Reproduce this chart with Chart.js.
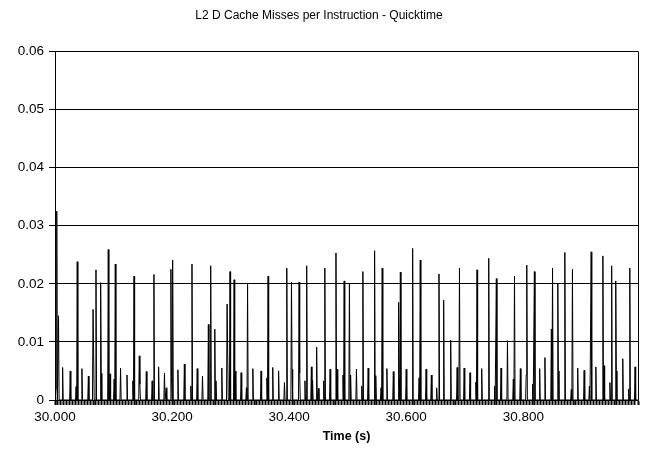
<!DOCTYPE html>
<html><head><meta charset="utf-8">
<script src="https://cdn.jsdelivr.net/npm/chart.js@4"></script>
<style>html,body{margin:0;padding:0;background:#fff}</style>
</head><body>
<canvas id="c" width="645" height="456"></canvas>
<script>
const chartTitle = 'L2 D Cache Misses per Instruction - Quicktime';
const xAxisTitle = 'Time (s)';
const startTime = 30.000;
const endTime = 30.996;
const xLabelTicks = [30.000, 30.200, 30.400, 30.600, 30.800];
const yTicks = [0, 0.01, 0.02, 0.03, 0.04, 0.05, 0.06];
// spike positions in ms after startTime
const spikeMs = [2,3,6,13,26,36,38,46,57,65,66,70,78,79,91,94,101,103,112,123,133,135,144,145,156,166,169,177,187,190,
198,199,201,210,221,232,234,243,252,262,266,273,275,285,294,295,299,306,308,318,327,329,338,352,362,364,372,382,392,396,
404,405,417,418,427,430,438,440,447,450,459,461,470,480,482,492,494,503,505,515,524,526,535,546,548,557,559,567,578,587,
588,590,600,611,622,624,634,643,652,656,664,676,687,691,699,709,719,721,729,741,751,754,762,773,783,785,795,805,806,816,
819,828,837,848,850,859,860,871,882,884,893,904,913,916,924,936,938,948,951,958,959,970,980,982,991];
const spikeValues = [0.002,0.0325,0.0145,0.0056,0.005,0.0023,0.0238,0.0054,0.0041,0.0156,0.0156,0.0224,0.0202,0.0046,0.0259,0.0045,0.0036,0.0234,0.0055,0.0043,0.0033,0.0213,0.0076,0.0027,0.0049,0.0033,0.0216,0.0057,0.0046,0.0021,
0.0225,0.0041,0.0241,0.0052,0.0062,0.0024,0.0234,0.0054,0.0041,0.013,0.0231,0.0122,0.0033,0.0055,0.0165,0.0165,0.0221,0.0207,0.005,0.0047,0.0021,0.0199,0.0054,0.005,0.0038,0.0213,0.0056,0.005,0.003,0.0227,
0.0203,0.0053,0.0203,0.0047,0.0033,0.0231,0.0057,0.0034,0.0091,0.002,0.0033,0.0227,0.0053,0.0253,0.0053,0.0043,0.0205,0.02,0.0043,0.0053,0.0024,0.0221,0.0055,0.0257,0.0042,0.0021,0.0227,0.0054,0.0049,0.0168,
0.0036,0.022,0.0053,0.0261,0.0038,0.0241,0.0053,0.0043,0.0021,0.0217,0.0172,0.0103,0.0056,0.0227,0.0055,0.0047,0.0031,0.0224,0.0054,0.0244,0.0024,0.0209,0.0055,0.0102,0.0036,0.0213,0.0054,0.0043,0.0232,0.0027,
0.0221,0.0054,0.0073,0.0122,0.0227,0.0201,0.005,0.0254,0.0018,0.0225,0.0055,0.0051,0.0024,0.0255,0.0057,0.0248,0.0059,0.003,0.0231,0.0205,0.005,0.0071,0.0019,0.0227,0.0057];

const points = [{x: startTime, y: 0}];
let lastMs = 0;
for (let i = 0; i < spikeMs.length; i++) {
  const m = spikeMs[i];
  const next = i < spikeMs.length - 1 ? spikeMs[i + 1] : Infinity;
  if (m - 1 > lastMs) points.push({x: startTime + (m - 1) / 1000, y: 0});
  points.push({x: startTime + m / 1000, y: spikeValues[i]});
  lastMs = m;
  if (m + 1 < next) { points.push({x: startTime + (m + 1) / 1000, y: 0}); lastMs = m + 1; }
}
points.push({x: endTime, y: 0});

const isLabelTick = v => xLabelTicks.some(t => Math.abs(t - v) < 1e-6);
const FONT = 'Liberation Sans, Arial, sans-serif';

const borderPlugin = {
  id: 'rightBorder',
  afterDraw(chart) {
    const a = chart.chartArea, ctx = chart.ctx;
    ctx.save();
    ctx.strokeStyle = '#000';
    ctx.lineWidth = 1;
    ctx.beginPath();
    ctx.moveTo(Math.round(a.right) + 0.5, a.top);
    ctx.lineTo(Math.round(a.right) + 0.5, a.bottom);
    ctx.stroke();
    ctx.restore();
  }
};

new Chart(document.getElementById('c'), {
  type: 'line',
  data: { datasets: [{ data: points, borderColor: '#000', borderWidth: 1, pointRadius: 0, tension: 0, fill: false }] },
  options: {
    responsive: false, animation: false,
    layout: { padding: { left: 0, right: 7, top: 6, bottom: 0 } },
    plugins: {
      legend: { display: false }, tooltip: { enabled: false },
      title: { display: true, text: chartTitle, color: '#000', font: { family: FONT, size: 12, weight: 'normal' }, padding: { top: 2, bottom: 29 } }
    },
    scales: {
      x: {
        type: 'linear', min: startTime, max: endTime,
        border: { color: '#000', width: 1 },
        grid: { drawOnChartArea: false, drawTicks: true, tickLength: 5, tickWidth: 2, tickColor: '#000' },
        ticks: {
          stepSize: 0.005, autoSkip: false, maxRotation: 0, minRotation: 0, padding: 4, color: '#000',
          font: { family: FONT, size: 13.5 },
          callback: v => isLabelTick(v) ? v.toFixed(3) : ''
        },
        title: { display: true, text: xAxisTitle, color: '#000', font: { family: FONT, size: 12.5, weight: 'bold' }, padding: { top: 4, bottom: 12 } },
        afterFit: s => { s.height = 56; }
      },
      y: {
        min: 0, max: 0.06,
        afterBuildTicks: s => { s.ticks = yTicks.map(v => ({value: v})); },
        border: { color: '#000', width: 1 },
        grid: { color: '#000', lineWidth: 1, tickLength: 6, drawTicks: true },
        ticks: { color: '#000', padding: 5, font: { family: FONT, size: 13.5 }, callback: v => String(+v.toFixed(2)) },
        afterFit: s => { s.width = 55; }
      }
    }
  },
  plugins: [borderPlugin]
});
</script>
</body></html>
